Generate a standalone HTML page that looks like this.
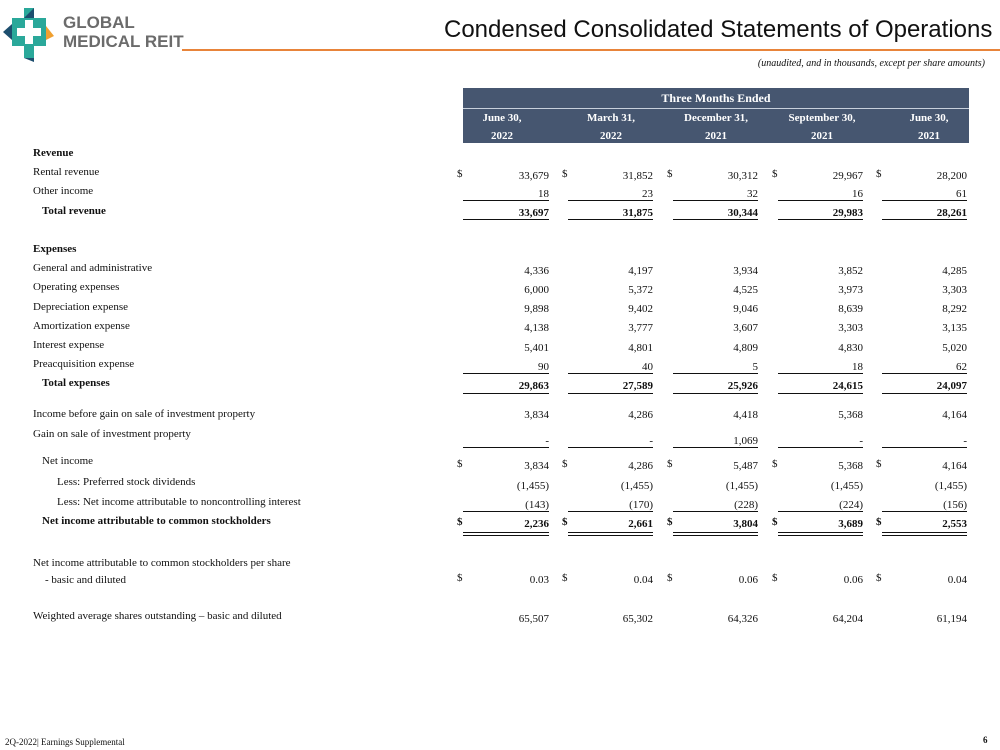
<!DOCTYPE html>
<html><head><meta charset="utf-8">
<style>
html,body{margin:0;padding:0;background:#fff;}
#p{position:relative;width:1000px;height:750px;overflow:hidden;font-family:"Liberation Serif",serif;font-size:11px;color:#111;}
.t{position:absolute;white-space:nowrap;line-height:12px;}
.b{font-weight:bold;}
.r{text-align:right;}
.ln{position:absolute;height:1px;background:#111;}
</style></head><body>
<div id="p">
<svg style="position:absolute;left:0;top:0" width="60" height="64" viewBox="0 0 60 64">
 <polygon points="12,18 24,18 24,8 34,8 34,18 46,18 46,46 34,46 34,58 24,58 24,46 12,46" fill="#2aa89a"/>
 <polygon points="24,18 34,8 34,18" fill="#1d4e6e"/>
 <polygon points="3,32 12,24 12,40" fill="#1d4e6e"/>
 <polygon points="46,26 54,36 46,40" fill="#f0a030"/>
 <polygon points="24,58 34,58 34,62" fill="#1d4e6e"/>
 <rect x="25" y="20" width="8" height="24" fill="#fff"/>
 <rect x="17" y="28" width="24" height="8" fill="#fff"/>
</svg>
<div class="t" style="left:63px;top:14px;font-family:'Liberation Sans',sans-serif;font-weight:bold;font-size:17px;line-height:18px;color:#6b6b6b;">GLOBAL</div>
<div class="t" style="left:63px;top:33px;font-family:'Liberation Sans',sans-serif;font-weight:bold;font-size:17px;line-height:18px;color:#6b6b6b;">MEDICAL REIT</div>
<div style="position:absolute;left:182px;top:49px;width:818px;height:2px;background:#e8843a;"></div>
<div class="t" style="left:444px;top:16px;font-family:'Liberation Sans',sans-serif;font-size:24px;line-height:28px;color:#111;">Condensed Consolidated Statements of Operations</div>
<div class="t" style="right:15px;top:58px;font-style:italic;font-size:10px;">(unaudited, and in thousands, except per share amounts)</div>

<div style="position:absolute;left:463px;top:88px;width:506px;height:55px;background:#465670;"></div>
<div style="position:absolute;left:463px;top:108px;width:506px;height:1px;background:#c8d0dc;"></div>
<div class="t b" style="left:463px;width:506px;top:92px;text-align:center;color:#fff;font-size:12px;">Three Months Ended</div>

<div class="t" style="left:5px;top:736px;font-size:9px;">2Q-2022| Earnings Supplemental</div>
<div class="t b" style="left:983px;top:734px;font-size:9px;">6</div>
</div>
<script>
var P=document.getElementById('p');
function add(h){P.insertAdjacentHTML('beforeend',h);}
var ds=[459,564,669,774,878], re=[549,653,758,863,967];
var hdr=[["June 30,","2022"],["March 31,","2022"],["December 31,","2021"],["September 30,","2021"],["June 30,","2021"]];
var hc=[502,611,716,822,929];
hdr.forEach(function(h,i){
 add('<div class="t b" style="left:'+(hc[i]-60)+'px;width:120px;text-align:center;top:112px;color:#fff;">'+h[0]+'</div>');
 add('<div class="t b" style="left:'+(hc[i]-60)+'px;width:120px;text-align:center;top:130px;color:#fff;">'+h[1]+'</div>');
});
function lab(x,y,s,b){add('<div class="t'+(b?' b':'')+'" style="left:'+x+'px;top:'+(y-6)+'px;">'+s+'</div>');}
function vals(y,v,opt){opt=opt||{};
 v.forEach(function(s,i){
  add('<div class="t r'+(opt.b?' b':'')+'" style="left:'+(re[i]-100)+'px;width:100px;top:'+(y-6)+'px;">'+s+'</div>');
  if(opt.d) add('<div class="t'+(opt.b?' b':'')+'" style="left:'+(ds[i]-2)+'px;top:'+(y-8)+'px;">$</div>');
  if(opt.u) add('<div class="ln" style="left:'+(ds[i]+4)+'px;width:'+(re[i]-ds[i]-4)+'px;top:'+opt.u+'px;"></div>');
  if(opt.dd){add('<div class="ln" style="left:'+(ds[i]+4)+'px;width:'+(re[i]-ds[i]-4)+'px;top:'+opt.dd+'px;"></div>');
   add('<div class="ln" style="left:'+(ds[i]+4)+'px;width:'+(re[i]-ds[i]-4)+'px;top:'+(opt.dd+3)+'px;"></div>');}
 });}
lab(33,153,'Revenue',1);
lab(33,172,'Rental revenue');vals(176,['33,679','31,852','30,312','29,967','28,200'],{d:1});
lab(33,191,'Other income');vals(194,['18','23','32','16','61'],{u:200});
lab(42,211,'Total revenue',1);vals(213,['33,697','31,875','30,344','29,983','28,261'],{b:1,u:219});
lab(33,249,'Expenses',1);
lab(33,268,'General and administrative');vals(271,['4,336','4,197','3,934','3,852','4,285']);
lab(33,287,'Operating expenses');vals(290,['6,000','5,372','4,525','3,973','3,303']);
lab(33,307,'Depreciation expense');vals(309,['9,898','9,402','9,046','8,639','8,292']);
lab(33,326,'Amortization expense');vals(328,['4,138','3,777','3,607','3,303','3,135']);
lab(33,345,'Interest expense');vals(348,['5,401','4,801','4,809','4,830','5,020']);
lab(33,364,'Preacquisition expense');vals(367,['90','40','5','18','62'],{u:373});
lab(42,383,'Total expenses',1);vals(386,['29,863','27,589','25,926','24,615','24,097'],{b:1,u:393});
lab(33,414,'Income before gain on sale of investment property');vals(415,['3,834','4,286','4,418','5,368','4,164']);
lab(33,434,'Gain on sale of investment property');vals(441,['-','-','1,069','-','-'],{u:447});
lab(42,461,'Net income');vals(466,['3,834','4,286','5,487','5,368','4,164'],{d:1});
lab(57,482,'Less: Preferred stock dividends');vals(486,['(1,455)','(1,455)','(1,455)','(1,455)','(1,455)']);
lab(57,502,'Less: Net income attributable to noncontrolling interest');vals(505,['(143)','(170)','(228)','(224)','(156)'],{u:511});
lab(42,521,'Net income attributable to common stockholders',1);vals(524,['2,236','2,661','3,804','3,689','2,553'],{b:1,d:1,dd:532});
lab(33,563,'Net income attributable to common stockholders per share');
lab(45,580,'- basic and diluted');vals(580,['0.03','0.04','0.06','0.06','0.04'],{d:1});
lab(33,616,'Weighted average shares outstanding – basic and diluted');vals(619,['65,507','65,302','64,326','64,204','61,194']);
</script>
</body></html>
